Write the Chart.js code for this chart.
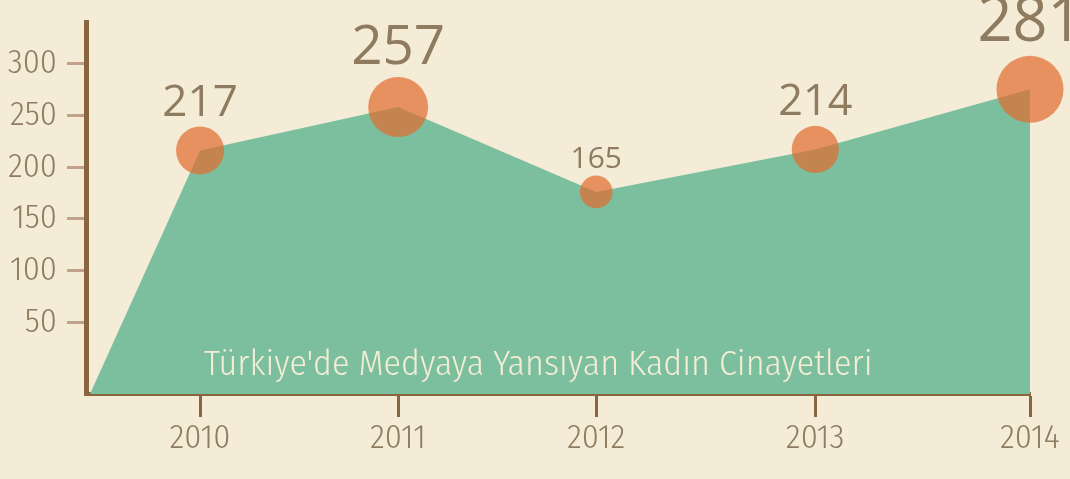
<!DOCTYPE html>
<html>
<head>
<meta charset="utf-8">
<script src="https://cdn.jsdelivr.net/npm/chart.js@4/dist/chart.umd.min.js"></script>
<style>
  html, body { margin: 0; padding: 0; background: #f4ecd6; }
  #wrap { width: 1070px; height: 479px; }
</style>
</head>
<body>
<div id="wrap"><canvas id="c" width="1070" height="479"></canvas></div>
<script>
// ---- data ----
const years = ['2010', '2011', '2012', '2013', '2014'];
const yearPos = [2010, 2011, 2012, 2013.106, 2014.19];      // x positions of the year ticks (axis units)
const printedCounts = [217, 257, 165, 214, 281];            // numbers written above the bubbles
const drawnLevels = [216, 258, 176, 217, 275];              // heights where the shape / bubbles sit
const areaStart = { x: 2009.444, y: -19 };                   // shape starts on the base line
const yTickValues = [50, 100, 150, 200, 250, 300];
const chartTitle = "Türkiye'de Medyaya Yansıyan Kadın Cinayetleri";

const X_MIN = 2009.424, X_MAX = 2014.19, Y_MIN = -19, Y_MAX = 340;

const BROWN = '#8a6640';
const TEXT = '#8e7b60';
const narrow = "'Fira Sans Condensed', 'Roboto Condensed', sans-serif";

function radiusFor(v) { return 25.48 + 0.1482 * (v - 226.8); }

const areaData = [areaStart].concat(yearPos.map((x, i) => ({ x: x, y: drawnLevels[i] })));
const bubbleData = yearPos.map((x, i) => ({ x: x, y: drawnLevels[i], r: radiusFor(printedCounts[i]) }));

const labelPlugin = {
  id: 'labels',
  afterDatasetsDraw(chart) {
    const ctx = chart.ctx;
    const meta = chart.getDatasetMeta(0);
    ctx.save();
    ctx.fillStyle = TEXT;
    ctx.textAlign = 'center';
    ctx.textBaseline = 'alphabetic';
    meta.data.forEach((el, i) => {
      const r = bubbleData[i].r;
      ctx.font = (1.83 * r).toFixed(1) + "px 'Open Sans', sans-serif";
      ctx.fillText(String(printedCounts[i]), el.x, el.y - r - 0.44 * r);
    });
    // title written inside the green area
    const a = chart.chartArea;
    ctx.fillStyle = '#f4edd3';
    ctx.font = "300 36px " + narrow;
    ctx.fillText(chartTitle, a.left + 0.479 * (a.right - a.left), a.bottom - 19);
    ctx.restore();
  }
};

new Chart(document.getElementById('c'), {
  type: 'line',
  data: {
    datasets: [
      {
        type: 'bubble',
        data: bubbleData,
        backgroundColor: 'rgba(227,107,45,0.7)',
        borderWidth: 0,
        hoverBorderWidth: 0,
        clip: false,
        order: 0
      },
      {
        type: 'line',
        data: areaData,
        fill: 'start',
        backgroundColor: '#7bbf9f',
        borderColor: 'rgba(0,0,0,0)',
        borderWidth: 0,
        pointRadius: 0,
        tension: 0,
        order: 1
      }
    ]
  },
  options: {
    responsive: false,
    animation: false,
    events: [],
    layout: { autoPadding: false, padding: { top: 22, right: 40, left: 0, bottom: 0 } },
    plugins: { legend: { display: false }, tooltip: { enabled: false } },
    scales: {
      x: {
        type: 'linear',
        min: X_MIN, max: X_MAX,
        z: 1,
        afterBuildTicks(scale) { scale.ticks = yearPos.map(v => ({ value: v })); },
        afterFit(scale) { scale.height = 85; scale.paddingLeft = 0; scale.paddingRight = 0; },
        ticks: {
          autoSkip: false, maxRotation: 0, minRotation: 0,
          padding: 1,
          color: TEXT,
          font: { family: narrow, size: 34, weight: 300 },
          callback: (v, i) => years[i]
        },
        grid: { drawOnChartArea: false, drawTicks: true, tickLength: 23, tickWidth: 3, tickColor: BROWN, color: BROWN },
        border: { display: true, color: BROWN, width: 4 }
      },
      y: {
        type: 'linear',
        min: Y_MIN, max: Y_MAX,
        z: 1,
        afterBuildTicks(scale) { scale.ticks = yTickValues.map(v => ({ value: v })); },
        afterFit(scale) { scale.width = 86; scale.paddingTop = 0; scale.paddingBottom = 0; },
        ticks: {
          padding: 10,
          color: TEXT,
          font: { family: narrow, size: 34, weight: 300 },
          callback: (v) => String(v)
        },
        grid: { drawOnChartArea: false, drawTicks: true, tickLength: 19, tickWidth: 3, tickColor: '#c0a28c', color: '#c0a28c' },
        border: { display: true, color: BROWN, width: 5 }
      }
    }
  },
  plugins: [labelPlugin]
});
</script>
</body>
</html>
